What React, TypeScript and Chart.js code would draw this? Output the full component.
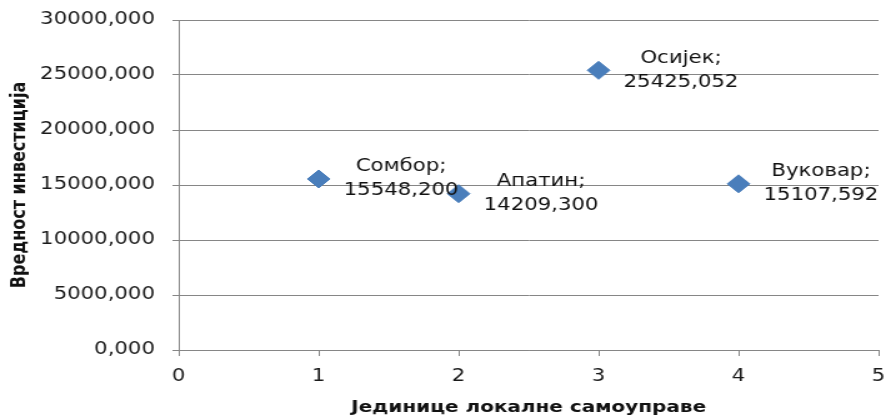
import React, { useEffect, useRef } from 'react';
import { Chart, registerables } from 'chart.js';

Chart.register(...registerables);

// ---- data ----
const municipalities = ['Сомбор', 'Апатин', 'Осијек', 'Вуковар'];
const xValues = [1, 2, 3, 4];
const investmentValues = [15548.2, 14209.3, 25425.052, 15107.592];
const xAxisTitle = 'Јединице локалне самоуправе';
const yAxisTitle = 'Вредност инвестиција';

// ---- rendering constants ----
const STRETCH = 1.25; // reference is horizontally stretched
const W = 886;
const H = 419;
const IW = Math.round(W / STRETCH);
const FONT = '"DejaVu Sans", Verdana, sans-serif';
const GRID = '#868686';

const fmt = (v: number) => v.toFixed(3).replace('.', ',');

const labelPlugin = {
  id: 'pointLabels',
  afterDatasetsDraw(chart: any) {
    const ctx = chart.ctx;
    const meta = chart.getDatasetMeta(0);
    ctx.save();
    ctx.font = `17px ${FONT}`;
    ctx.fillStyle = '#111';
    ctx.textBaseline = 'middle';
    ctx.textAlign = 'center';
    meta.data.forEach((pt: any, i: number) => {
      const l1 = municipalities[i] + ';';
      const l2 = fmt(investmentValues[i]);
      const w = Math.max(ctx.measureText(l1).width, ctx.measureText(l2).width);
      const cx = pt.x + 20 + w / 2;
      ctx.fillText(l1, cx, pt.y - 12);
      ctx.fillText(l2, cx, pt.y + 12);
    });
    ctx.restore();
  },
};

export default function App() {
  const ref = useRef<HTMLCanvasElement | null>(null);
  useEffect(() => {
    if (!ref.current) return;
    const chart = new Chart(ref.current, {
      type: 'scatter',
      data: {
        datasets: [
          {
            label: 'Вредност инвестиција',
            data: xValues.map((x, i) => ({ x, y: investmentValues[i] })),
            pointStyle: 'rectRot',
            pointRadius: 9,
            pointHoverRadius: 9,
            backgroundColor: '#4A7EBB',
            borderColor: '#4A7EBB',
            borderWidth: 1,
          },
        ],
      },
      options: {
        responsive: false,
        animation: false,
        devicePixelRatio: 1,
        layout: { autoPadding: false, padding: { top: 20, right: 6, left: 0, bottom: 0 } },
        plugins: {
          legend: { display: false },
          tooltip: { enabled: false },
        },
        scales: {
          x: {
            type: 'linear',
            min: 0,
            max: 5,
            ticks: {
              stepSize: 1,
              padding: 10,
              color: '#1a1a1a',
              font: { family: FONT, size: 17 },
            },
            grid: {
              drawOnChartArea: false,
              drawTicks: true,
              tickLength: 6,
              color: GRID,
            },
            border: { color: GRID },
            title: {
              display: true,
              text: xAxisTitle,
              color: '#111',
              font: { family: FONT, size: 16, weight: 'bold' },
              padding: { top: 0, bottom: 2 },
            },
            afterFit: (s: any) => {
              s.height = 69;
              s.paddingLeft = 0;
              s.paddingRight = 0;
            },
          },
          y: {
            type: 'linear',
            min: 0,
            max: 30000,
            ticks: {
              stepSize: 5000,
              padding: 14,
              color: '#1a1a1a',
              font: { family: FONT, size: 17 },
              callback: (v: any) => fmt(Number(v)),
            },
            grid: {
              drawTicks: true,
              tickLength: 5,
              color: GRID,
            },
            border: { color: GRID },
            title: {
              display: true,
              text: yAxisTitle,
              color: '#111',
              font: { family: FONT, size: 16, weight: 'bold' },
              padding: { top: 6, bottom: 0 },
            },
            afterFit: (s: any) => {
              s.width = 143;
              s.paddingTop = 0;
              s.paddingBottom = 0;
            },
          },
        },
      },
      plugins: [labelPlugin],
    });
    return () => chart.destroy();
  }, []);

  return (
    <div style={{ position: 'absolute', left: 0, top: 0, width: W, height: H, background: '#fff' }}>
      <canvas
        ref={ref}
        width={IW}
        height={H}
        style={{ width: `${W}px`, height: `${H}px`, display: 'block' }}
      />
    </div>
  );
}
